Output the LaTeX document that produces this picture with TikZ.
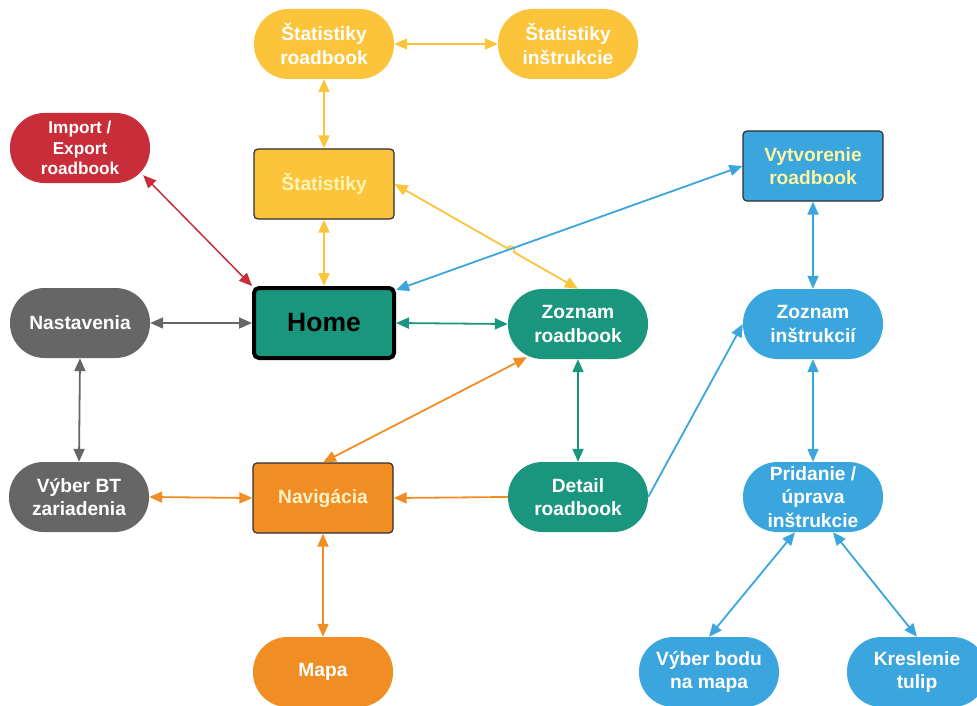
\documentclass[tikz,border=0pt]{standalone}
\usepackage{fontspec}
\setmainfont{Liberation Sans}
\usetikzlibrary{arrows.meta,calc}

\definecolor{cYellow}{HTML}{FCC43A}
\definecolor{cRed}{HTML}{C92D39}
\definecolor{cGray}{HTML}{666666}
\definecolor{cTeal}{HTML}{1A967E}
\definecolor{cOrange}{HTML}{F08E24}
\definecolor{cBlue}{HTML}{3BA6DD}
\definecolor{cEdge}{HTML}{2E2E2E}
\definecolor{cPaleYellow}{HTML}{FFF5B8}
\definecolor{cLemon}{HTML}{FFF6A0}
\definecolor{cCream}{HTML}{FFF1C8}

\begin{document}
\begin{tikzpicture}[x=1pt,y=-1pt,
  box/.style={minimum width=140pt, minimum height=70pt, align=center,
    inner sep=0pt, text=white,
    font=\bfseries\fontsize{19.2}{23.5}\selectfont},
  pill/.style={box, rounded corners=34.5pt},
  card/.style={box, rounded corners=4pt, draw=cEdge, line width=1.2pt},
  tip/.tip={Triangle[length=13pt,width=11pt]},
  both/.style={line width=1.8pt, tip-tip},
  single/.style={line width=1.8pt, -tip}]

\useasboundingbox (0,0) rectangle (977,706);

% statistics branch
\node[pill, fill=cYellow] (sr) at (324,44) {Štatistiky\\roadbook};
\node[pill, fill=cYellow] (si) at (568,44) {Štatistiky\\inštrukcie};
\node[card, fill=cYellow, text=cPaleYellow] (st) at (324,184) {Štatistiky};

% left column
\node[pill, fill=cRed, font=\bfseries\fontsize{17.2}{20.5}\selectfont] (imp) at (80,148) {Import /\\Export\\roadbook};
\node[pill, fill=cGray] (nas) at (80,323) {Nastavenia};
\node[pill, fill=cGray] (bt) at (79,497) {Výber BT\\zariadenia};

% centre
\node[box, fill=cTeal, draw=black, line width=4pt, rounded corners=5pt,
      text=black, font=\bfseries\fontsize{26.5}{30}\selectfont] (home) at (324,323) {Home};
\node[card, fill=cOrange, text=cCream] (nav) at (323,498) {Navigácia};
\node[pill, fill=cOrange] (mapa) at (323,672) {Mapa};

% roadbook list
\node[pill, fill=cTeal] (zr) at (578,324) {Zoznam\\roadbook};
\node[pill, fill=cTeal] (det) at (578,497) {Detail\\roadbook};

% instruction branch
\node[card, fill=cBlue, text=cLemon] (vyt) at (813,166) {Vytvorenie\\roadbook};
\node[pill, fill=cBlue] (zi) at (813,324) {Zoznam\\inštrukcií};
\node[pill, fill=cBlue] (pri) at (813,497) {Pridanie /\\úprava\\inštrukcie};
\node[pill, fill=cBlue] (bod) at (709,672) {Výber bodu\\na mapa};
\node[pill, fill=cBlue] (kre) at (917,672) {Kreslenie\\tulip};

% yellow connectors
\draw[both, cYellow] (sr.east) -- (si.west);
\draw[both, cYellow] (sr.south) -- (st.north);
\draw[both, cYellow] (st.south) -- (home.north);
% small hop where the yellow line crosses the blue one
\coordinate (jx) at ($(st.east)!0.632!(zr.north)$);
\coordinate (j1) at ($(jx)!4pt!(st.east)$);
\coordinate (j2) at ($(jx)!4pt!(zr.north)$);
\draw[both, cYellow] (st.east) -- (j1) to[out=60, in=60, looseness=1.7] (j2) -- (zr.north);

% blue connectors
\draw[both, cBlue] (vyt.west) -- ([yshift=-4pt]home.north east);
\draw[both, cBlue] (vyt.south) -- (zi.north);
\draw[both, cBlue] (zi.south) -- (pri.north);
\draw[single, cBlue] (det.east) -- (zi.west);
\draw[both, cBlue] ([xshift=-18pt]pri.south) -- (bod.north);
\draw[both, cBlue] ([xshift=20pt]pri.south) -- (kre.north);

% red, gray and teal connectors
\draw[both, cRed, line width=1.5pt] ([shift={(-7pt,8pt)}]imp.south east) -- (home.north west);
\draw[both, cGray] (nas.east) -- (home.west);
\draw[both, cGray] (nas.south) -- (bt.north);
\draw[both, cTeal] (home.east) -- (zr.west);
\draw[both, cTeal] (zr.south) -- (det.north);

% orange connectors
\draw[both, cOrange] ([shift={(-51pt,2pt)}]zr.south) -- (nav.north);
\draw[single, cOrange] (det.west) -- (nav.east);
\draw[both, cOrange] (bt.east) -- (nav.west);
\draw[both, cOrange] (nav.south) -- (mapa.north);

\end{tikzpicture}
\end{document}
